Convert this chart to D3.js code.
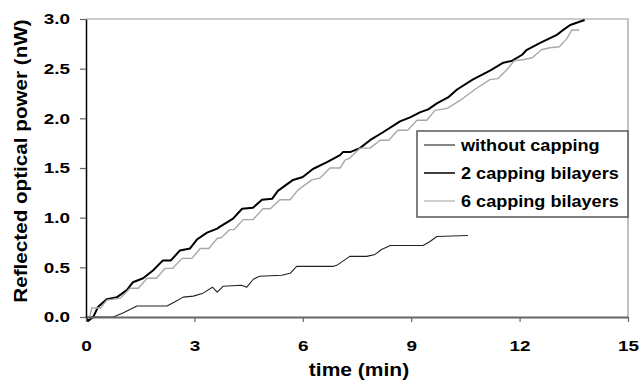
<!DOCTYPE html>
<html>
<head>
<meta charset="utf-8">
<script src="https://cdn.jsdelivr.net/npm/d3@7"></script>
<style>
  body { margin: 0; background: #fff; }
  text { font-family: "Liberation Sans", Arial, Helvetica, sans-serif; font-weight: bold; }
</style>
</head>
<body>
<div id="chart"></div>
<script>
let chart_width = 640;
let chart_height = 382;
let margin = { top: 19, right: 12, bottom: 65, left: 86 };

//series data (time in min, power in nW)
let time_none = [0, 0.75, 1.02, 1.41, 2.24, 2.45, 2.69, 2.97, 3.24, 3.5, 3.63, 3.8, 4.3, 4.45, 4.63, 4.8, 5.42, 5.65, 5.83, 6.85, 6.94, 7.3, 7.77, 8.0, 8.18, 8.42, 9.33, 9.52, 9.71, 10.57];
let power_none = [0, 0, 0.04, 0.11, 0.11, 0.15, 0.2, 0.21, 0.24, 0.3, 0.25, 0.31, 0.32, 0.3, 0.38, 0.41, 0.42, 0.44, 0.51, 0.51, 0.52, 0.61, 0.61, 0.63, 0.68, 0.72, 0.72, 0.76, 0.81, 0.82];

let time_two = [0, 0.06, 0.2, 0.33, 0.58, 0.86, 1.13, 1.3, 1.58, 1.86, 2.13, 2.35, 2.6, 2.88, 3.07, 3.35, 3.63, 3.71, 4.07, 4.32, 4.62, 4.87, 5.15, 5.31, 5.73, 6.0, 6.28, 6.67, 7.03, 7.11, 7.31, 7.58, 7.86, 8.22, 8.69, 8.97, 9.24, 9.47, 9.71, 10.02, 10.27, 10.7, 11.18, 11.55, 11.8, 12.07, 12.2, 12.57, 13.03, 13.17, 13.4, 13.8];
let power_two = [0, -0.04, 0, 0.1, 0.18, 0.2, 0.27, 0.35, 0.39, 0.47, 0.57, 0.57, 0.67, 0.69, 0.78, 0.85, 0.89, 0.91, 0.99, 1.09, 1.1, 1.18, 1.19, 1.27, 1.38, 1.41, 1.49, 1.56, 1.63, 1.66, 1.66, 1.7, 1.78, 1.86, 1.97, 2.01, 2.06, 2.09, 2.15, 2.21, 2.29, 2.39, 2.48, 2.56, 2.58, 2.64, 2.69, 2.76, 2.84, 2.88, 2.94, 2.99];

let time_six = [0, 0.1, 0.16, 0.4, 0.58, 0.95, 1.22, 1.45, 1.69, 1.95, 2.19, 2.4, 2.66, 2.93, 3.16, 3.4, 3.63, 3.75, 3.98, 4.1, 4.35, 4.62, 4.9, 5.1, 5.37, 5.65, 5.87, 6.25, 6.48, 6.75, 7.03, 7.17, 7.3, 7.58, 7.86, 8.14, 8.38, 8.63, 8.9, 9.16, 9.43, 9.66, 10.0, 10.35, 10.8, 11.18, 11.4, 11.65, 11.85, 12.1, 12.35, 12.6, 12.84, 13.1, 13.3, 13.45, 13.65];
let power_six = [0, 0, 0.09, 0.09, 0.17, 0.19, 0.29, 0.29, 0.39, 0.39, 0.49, 0.49, 0.59, 0.59, 0.69, 0.69, 0.79, 0.8, 0.88, 0.88, 0.98, 0.98, 1.09, 1.09, 1.18, 1.18, 1.28, 1.38, 1.4, 1.5, 1.5, 1.58, 1.6, 1.7, 1.7, 1.78, 1.78, 1.88, 1.88, 1.98, 1.98, 2.08, 2.1, 2.18, 2.3, 2.39, 2.4, 2.49, 2.58, 2.59, 2.61, 2.69, 2.71, 2.72, 2.8, 2.89, 2.89];

let series_names = ["without capping", "2 capping bilayers", "6 capping bilayers"];
let x_ticks = [0, 3, 6, 9, 12, 15];
let y_ticks = [0, 0.5, 1, 1.5, 2, 2.5, 3];

let series = [
  { name: series_names[0], t: time_none, v: power_none, color: "#222", width: 1.1 },
  { name: series_names[1], t: time_two, v: power_two, color: "#000", width: 2 },
  { name: series_names[2], t: time_six, v: power_six, color: "#a8a8a8", width: 1.4 },
];

//the original font is a wide helvetica, so stretch text along its baseline
function stretch(sel, k) {
  sel.each(function () {
    let len = this.getComputedTextLength();
    d3.select(this).attr("textLength", len * k).attr("lengthAdjust", "spacingAndGlyphs");
  });
}

let svg = d3
  .select("#chart")
  .append("svg")
  .attr("width", chart_width)
  .attr("height", chart_height);

let x = d3.scaleLinear().domain([0, 15]).range([margin.left, chart_width - margin.right]);
let y = d3.scaleLinear().domain([0, 3]).range([chart_height - margin.bottom, margin.top]);

//top and right border of plot area
svg.append("path")
  .attr("d", `M${x(0)},${y(3)}H${x(15)}V${y(0)}`)
  .attr("fill", "none")
  .attr("stroke", "#999")
  .attr("stroke-width", 1.2);

//lines
let line = d3.line().x((d) => x(d[0])).y((d) => y(d[1]));

let plot = svg.append("g");
series.forEach(function (s) {
  let pts = s.t.map((t, i) => [t, s.v[i]]);
  plot.append("path")
    .datum(pts)
    .attr("d", line)
    .attr("fill", "none")
    .attr("stroke", s.color)
    .attr("stroke-width", s.width)
    .attr("stroke-linejoin", "round");
});

let tick_font = '"Liberation Sans", Arial, Helvetica, sans-serif';

//x axis
let x_axis = svg.append("g")
  .attr("transform", `translate(0,${y(0)})`)
  .call(d3.axisBottom(x).tickValues(x_ticks).tickSize(5).tickSizeOuter(0).tickPadding(18));
x_axis.select(".domain").attr("stroke", "#666").attr("stroke-width", 2);
x_axis.selectAll(".tick line").attr("stroke", "#666").attr("stroke-width", 1.2);
x_axis.selectAll("text").attr("font-size", 15.5).attr("fill", "#000")
  .style("font-family", tick_font).style("font-weight", "bold")
  .call(stretch, 1.22);

//y axis
let y_axis = svg.append("g")
  .attr("transform", `translate(${x(0)},0)`)
  .call(d3.axisLeft(y).tickValues(y_ticks).tickFormat(d3.format(".1f")).tickSize(6).tickSizeOuter(0).tickPadding(10));
y_axis.select(".domain").attr("stroke", "#000").attr("stroke-width", 1.5);
y_axis.selectAll(".tick line").attr("stroke", "#666").attr("stroke-width", 1.2);
y_axis.selectAll("text").attr("font-size", 15.5).attr("fill", "#000")
  .style("font-family", tick_font).style("font-weight", "bold")
  .call(stretch, 1.22);

//axis titles
svg.append("text")
  .attr("x", 359)
  .attr("y", 376)
  .attr("text-anchor", "middle")
  .attr("font-size", 17.5)
  .text("time (min)")
  .call(stretch, 1.2);

svg.append("text")
  .attr("transform", "translate(27,161) rotate(-90)")
  .attr("text-anchor", "middle")
  .attr("font-size", 17.5)
  .text("Reflected optical power (nW)")
  .call(stretch, 1.18);

//legend
let legend = svg.append("g").attr("transform", "translate(417,131)");
legend.append("rect")
  .attr("width", 211)
  .attr("height", 86)
  .attr("fill", "#fff")
  .attr("stroke", "#555")
  .attr("stroke-width", 1.5);

series.forEach(function (s, i) {
  let row = legend.append("g").attr("transform", `translate(0,${14 + i * 28})`);
  row.append("line")
    .attr("x1", 7).attr("x2", 38)
    .attr("stroke", s.color)
    .attr("stroke-width", i == 1 ? 1.5 : 1.1);
  row.append("text")
    .attr("x", 44)
    .attr("y", 5.5)
    .attr("font-size", 16)
    .text(s.name)
    .call(stretch, 1.13);
});
</script>
</body>
</html>
